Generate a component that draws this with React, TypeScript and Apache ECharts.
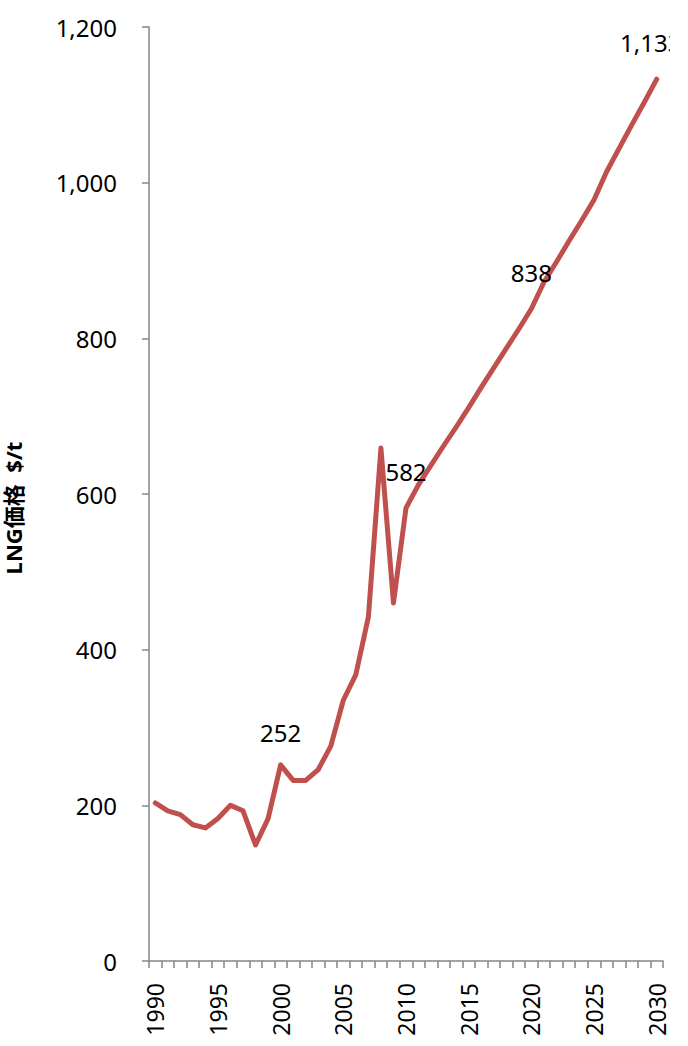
import React, { useEffect, useRef } from "react";
import * as echarts from "echarts";

// Years on the category axis
const years: string[] = [];
for (let y = 1990; y <= 2030; y++) years.push(String(y));

// LNG price, $/t, one value per year
const prices: number[] = [
  203, 193, 188, 175, 171, 183, 200, 193, 149, 183,
  252, 232, 232, 246, 276, 335, 368, 442, 659, 460,
  582, 612, 637, 662, 686, 711, 737, 762, 787, 812,
  838, 872, 898, 925, 951, 978, 1014, 1044, 1074, 1103,
  1133,
];

// Years whose values are printed on the line
const labelledYears = ["2000", "2010", "2020", "2030"];

const yTicks = { min: 0, max: 1200, interval: 200 };

const FONT = "'Noto Sans', 'Noto Sans CJK JP', sans-serif";
const LINE_COLOR = "#C0504D";
const AXIS_COLOR = "#868686";

const fmt = (v: number) => v.toLocaleString("en-US");

export default function App() {
  const ref = useRef<HTMLDivElement>(null);

  useEffect(() => {
    document.body.style.margin = "0";
    if (!ref.current) return;
    const chart = echarts.init(ref.current, undefined, { renderer: "svg" });

    const seriesData = prices.map((v, i) => {
      const show = labelledYears.includes(years[i]);
      const last = i === prices.length - 1;
      return {
        value: v,
        label: {
          show,
          position: "top" as const,
          distance: years[i] === "2000" ? 20 : 24,
          offset: last ? [-6, 0] : [0, 0],
          formatter: () => fmt(v),
          color: "#000",
          fontSize: 24,
          fontFamily: FONT,
        },
      };
    });

    chart.setOption({
      animation: false,
      backgroundColor: "#fff",
      grid: {
        left: 149,
        right: 7,
        top: 27,
        bottom: 85,
        containLabel: false,
        outerBoundsMode: "none",
      },
      xAxis: {
        type: "category",
        data: years,
        boundaryGap: true,
        axisLine: { lineStyle: { color: AXIS_COLOR, width: 1.5 } },
        axisTick: {
          show: true,
          interval: 0,
          length: 7,
          lineStyle: { color: AXIS_COLOR, width: 1.5 },
        },
        axisLabel: {
          interval: 4,
          rotate: 90,
          margin: 22,
          color: "#000",
          fontSize: 23,
          fontFamily: FONT,
        },
        splitLine: { show: false },
      },
      yAxis: {
        type: "value",
        min: yTicks.min,
        max: yTicks.max,
        interval: yTicks.interval,
        name: "LNG価格  $/t",
        nameLocation: "middle",
        nameRotate: 90,
        nameGap: 125,
        nameTextStyle: {
          color: "#000",
          fontSize: 22,
          fontWeight: "bold",
          fontFamily: FONT,
          padding: [0, 28, 0, 0],
        },
        axisLine: { show: true, lineStyle: { color: AXIS_COLOR, width: 1.5 } },
        axisTick: { show: true, length: 7, lineStyle: { color: AXIS_COLOR, width: 1.5 } },
        axisLabel: {
          margin: 32,
          color: "#000",
          fontSize: 24,
          fontFamily: FONT,
          formatter: (v: number) => fmt(v),
        },
        splitLine: { show: false },
      },
      series: [
        {
          type: "line",
          data: seriesData,
          symbol: "circle",
          symbolSize: 1,
          showSymbol: true,
          lineStyle: { color: LINE_COLOR, width: 5, cap: "round", join: "round" },
          itemStyle: { color: LINE_COLOR },
          clip: false,
        },
      ],
    });

    return () => chart.dispose();
  }, []);

  return (
    <div
      ref={ref}
      style={{ width: 670, height: 1046, overflow: "hidden", background: "#fff" }}
    />
  );
}
